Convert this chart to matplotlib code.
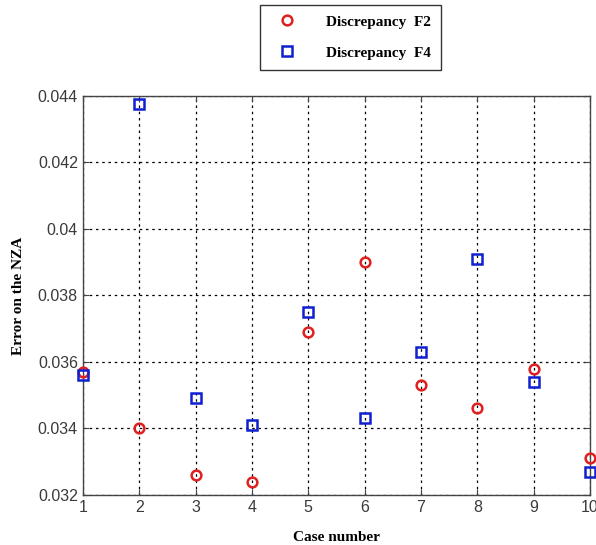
import numpy as np
import matplotlib.pyplot as plt

# numero do caso
cases = [1, 2, 3, 4, 5, 6, 7, 8, 9, 10]

err_f2 = [0.0357, 0.0340, 0.0326, 0.0324, 0.0369, 0.0390, 0.0353, 0.0346, 0.0358, 0.0331]
err_f4 = [0.0356, 0.04376, 0.0349, 0.0341, 0.0375, 0.0343, 0.0363, 0.0391, 0.0354, 0.0327]

yticks = [0.032, 0.034, 0.036, 0.038, 0.04, 0.042, 0.044]
ytick_labels = ["0.032", "0.034", "0.036", "0.038", "0.04", "0.042", "0.044"]

serif = ["Liberation Serif", "DejaVu Serif"]
sans = ["Liberation Sans", "DejaVu Sans"]

fig = plt.figure(figsize=(5.96, 5.45), dpi=100)
ax = fig.add_axes([0.139, 0.092, 0.851, 0.732])

l1, = ax.plot(cases, err_f2, "o", ls="none", mfc="none", mec="#e02020",
              ms=7, mew=1.8, clip_on=False, zorder=3)
l2, = ax.plot(cases, err_f4, "s", ls="none", mfc="none", mec="#1020d0",
              ms=7.2, mew=1.8, clip_on=False, zorder=3)

ax.set_xlim(1, 10)
ax.set_ylim(0.032, 0.044)
ax.set_xticks(cases)
ax.set_yticks(yticks)
ax.set_yticklabels(ytick_labels)
ax.grid(True, color="black", ls=(0, (2, 3)), lw=0.9)
ax.tick_params(direction="in", top=True, right=True, length=4,
               labelsize=11.5, labelcolor="#3a3a3a", color="#444444")
for lab in ax.get_xticklabels() + ax.get_yticklabels():
    lab.set_family(sans)
for s in ax.spines.values():
    s.set_color("#444444")
    s.set_linewidth(1.0)

ax.set_xlabel("Case number", family=serif, weight="bold", fontsize=11, labelpad=12)
ax.set_ylabel("Error on the NZA", family=serif, weight="bold", fontsize=11, labelpad=9)

leg = fig.legend([l1, l2], ["Discrepancy  F2", "Discrepancy  F4"],
                 loc="upper left", bbox_to_anchor=(0.436, 0.991),
                 prop={"family": serif, "weight": "bold", "size": 11},
                 frameon=True, fancybox=False, edgecolor="black",
                 borderpad=0.65, labelspacing=1.15, handletextpad=1.5,
                 handlelength=2.2, borderaxespad=0)
leg.get_frame().set_linewidth(1.0)

fig.savefig("out.png", dpi=100)
